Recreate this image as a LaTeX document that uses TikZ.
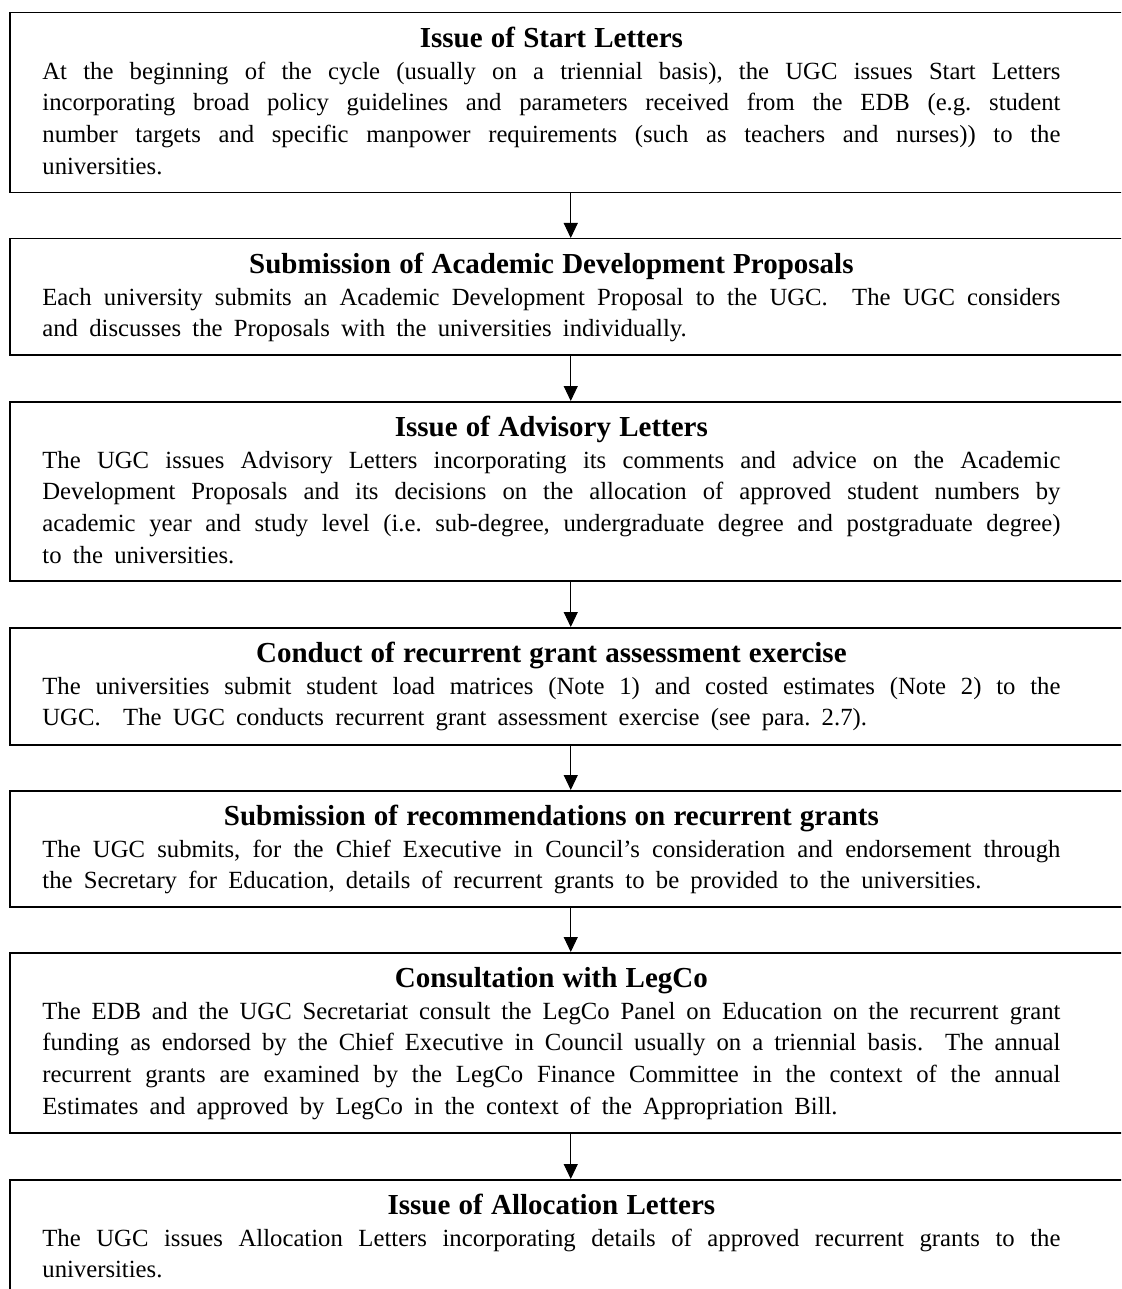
\documentclass[tikz,border=0pt]{standalone}
\usepackage{fontspec}
\setmainfont{Liberation Serif}
\usetikzlibrary{arrows.meta}
\newcommand\jline[1]{\makebox[509pt][s]{\spaceskip=0.38em plus 1fil minus 0.2em\relax #1}\par}
\newcommand\lline[1]{\mbox{\spaceskip=0.455em\relax #1}\par}
\newcommand\ttl[1]{{\fontsize{14.5pt}{15.85pt}\selectfont\bfseries\centering #1\par}}
\newcommand\bodyfont{\fontsize{12.35pt}{15.85pt}\selectfont\frenchspacing}
\tikzset{
  stagebox/.style={draw, line width=0.75pt, rectangle, anchor=north west, minimum width=561pt, inner sep=0pt},
  bodytext/.style={anchor=base west, text width=509pt, inner sep=0pt, font={\bodyfont}},
  flowarrow/.style={line width=0.5pt, -{Triangle[length=7.5pt,width=7pt]}, shorten >=0pt, shorten <=0pt}
}
\begin{document}
\begin{tikzpicture}[x=0.5pt,y=-0.5pt]
\clip (0,0) rectangle (1121,1289);
\fill[white] (0,0) rectangle (1121,1289);

\node[stagebox, minimum height=90pt] (b1) at (9,12) {};
\node[stagebox, minimum height=58pt] (b2) at (9,238) {};
\node[stagebox, minimum height=89.5pt] (b3) at (9,401) {};
\node[stagebox, minimum height=58.5pt] (b4) at (9,627) {};
\node[stagebox, minimum height=58pt] (b5) at (9,790) {};
\node[stagebox, minimum height=90pt] (b6) at (9,952) {};
\node[stagebox, minimum height=58pt] (b7) at (9,1179) {};

\node[bodytext] (t1) at (42,47.5) {\ttl{Issue of Start Letters}%
\jline{At the beginning of the cycle (usually on a triennial basis), the UGC issues Start Letters}%
\jline{incorporating broad policy guidelines and parameters received from the EDB (e.g. student}%
\jline{number targets and specific manpower requirements (such as teachers and nurses)) to the}%
\lline{universities.}};

\node[bodytext] (t2) at (42,273.5) {\ttl{Submission of Academic Development Proposals}%
\jline{Each university submits an Academic Development Proposal to the UGC.\ \ The UGC considers}%
\lline{and discusses the Proposals with the universities individually.}};

\node[bodytext] (t3) at (42,436.5) {\ttl{Issue of Advisory Letters}%
\jline{The UGC issues Advisory Letters incorporating its comments and advice on the Academic}%
\jline{Development Proposals and its decisions on the allocation of approved student numbers by}%
\jline{academic year and study level (i.e. sub-degree, undergraduate degree and postgraduate degree)}%
\lline{to the universities.}};

\node[bodytext] (t4) at (42,662.5) {\ttl{Conduct of recurrent grant assessment exercise}%
\jline{The universities submit student load matrices (Note 1) and costed estimates (Note 2) to the}%
\lline{UGC.\ \ The UGC conducts recurrent grant assessment exercise (see para. 2.7).}};

\node[bodytext] (t5) at (42,825.5) {\ttl{Submission of recommendations on recurrent grants}%
\jline{The UGC submits, for the Chief Executive in Council’s consideration and endorsement through}%
\lline{the Secretary for Education, details of recurrent grants to be provided to the universities.}};

\node[bodytext] (t6) at (42,987.5) {\ttl{Consultation with LegCo}%
\jline{The EDB and the UGC Secretariat consult the LegCo Panel on Education on the recurrent grant}%
\jline{funding as endorsed by the Chief Executive in Council usually on a triennial basis.\ \ The annual}%
\jline{recurrent grants are examined by the LegCo Finance Committee in the context of the annual}%
\lline{Estimates and approved by LegCo in the context of the Appropriation Bill.}};

\node[bodytext] (t7) at (42,1214.5) {\ttl{Issue of Allocation Letters}%
\jline{The UGC issues Allocation Letters incorporating details of approved recurrent grants to the}%
\lline{universities.}};

\draw[flowarrow] (b1.south) -- (b2.north);
\draw[flowarrow] (b2.south) -- (b3.north);
\draw[flowarrow] (b3.south) -- (b4.north);
\draw[flowarrow] (b4.south) -- (b5.north);
\draw[flowarrow] (b5.south) -- (b6.north);
\draw[flowarrow] (b6.south) -- (b7.north);
\end{tikzpicture}
\end{document}
